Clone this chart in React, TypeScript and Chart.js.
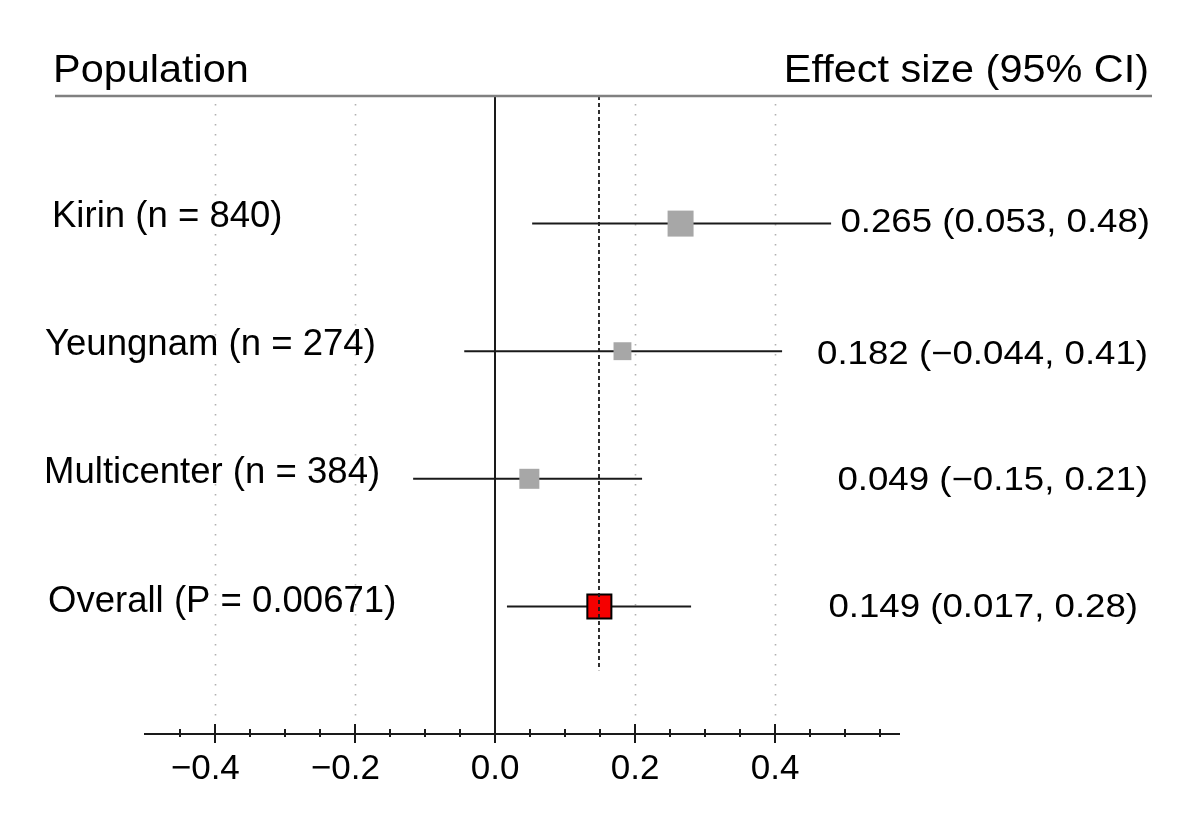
import React, { useEffect, useRef } from 'react';
import { Chart, registerables } from 'chart.js';

Chart.register(...registerables);

// ---------- data ----------
const POPULATIONS = ['Kirin (n = 840)', 'Yeungnam (n = 274)', 'Multicenter (n = 384)', 'Overall (P = 0.00671)'];
const ROWS = [1, 2, 3, 4];
const SAMPLE_SIZES = [840, 274, 384];
const EFFECTS = [0.265, 0.182, 0.049, 0.149];
// whisker ends as drawn in the picture
const CI_LOWER = [0.053, -0.044, -0.117, 0.017];
const CI_UPPER = [0.48, 0.41, 0.21, 0.28];
const VALUE_LABELS = ['0.265 (0.053, 0.48)', '0.182 (\u22120.044, 0.41)', '0.049 (\u22120.15, 0.21)', '0.149 (0.017, 0.28)'];
const X_TICKS = [-0.45, -0.4, -0.35, -0.3, -0.25, -0.2, -0.15, -0.1, -0.05, 0, 0.05, 0.1, 0.15, 0.2, 0.25, 0.3, 0.35, 0.4, 0.45, 0.5, 0.55];
const MAJOR_TICKS = [-0.4, -0.2, 0, 0.2, 0.4];
const GRID_LINES = [-0.4, -0.2, 0.2, 0.4];
const HEADER_LEFT = 'Population';
const HEADER_RIGHT = 'Effect size (95% CI)';

// ---------- style / layout ----------
const FONT = '"Liberation Sans", Arial, Helvetica, sans-serif';
const GRAY = '#a7a7a7';
const RED = '#f50000';
const INK = '#1a1a1a';
const LABEL_X = [52, 45, 44, 48];
const LABEL_DY = [3, 4, 4, 6];
const VALUE_RIGHT = [1150, 1148, 1148, 1138];
const VALUE_DY = [8, 13, 11, 11];

const isMajor = (v: number) => MAJOR_TICKS.some((m) => Math.abs(m - v) < 1e-9);
// negative labels: minus hangs to the left of the centred number
const fmtTick = (v: number) => (v < -1e-9 ? '\u2212' + Math.abs(v).toFixed(1) + '  ' : v.toFixed(1));

function drawText(ctx: CanvasRenderingContext2D, text: string, x: number, y: number, size: number, align: CanvasTextAlign, sx = 1) {
  ctx.save();
  ctx.font = `${size}px ${FONT}`;
  ctx.textBaseline = 'alphabetic';
  ctx.textAlign = align;
  ctx.fillStyle = '#000';
  ctx.translate(x, y);
  ctx.scale(sx, 1);
  ctx.fillText(text, 0, 0);
  ctx.restore();
}

const forestPlugin = {
  id: 'forestDecor',
  beforeDatasetsDraw(chart: any) {
    const { ctx, chartArea, scales } = chart;
    const { top, bottom } = chartArea;
    const x = scales.x;
    ctx.save();
    // dotted reference lines
    ctx.strokeStyle = '#b0b0b0';
    ctx.lineWidth = 1.6;
    ctx.setLineDash([1.6, 8.4]);
    for (const v of GRID_LINES) {
      const px = Math.round(x.getPixelForValue(v)) + 0.5;
      ctx.beginPath();
      ctx.moveTo(px, top + 8);
      ctx.lineTo(px, bottom - 10);
      ctx.stroke();
    }
    ctx.setLineDash([]);
    // zero line
    const x0 = Math.round(x.getPixelForValue(0));
    ctx.strokeStyle = INK;
    ctx.lineWidth = 2;
    ctx.beginPath();
    ctx.moveTo(x0, top);
    ctx.lineTo(x0, bottom);
    ctx.stroke();
    ctx.restore();
  },
  afterDatasetsDraw(chart: any) {
    const { ctx, chartArea, scales } = chart;
    const { top, bottom } = chartArea;
    const x = scales.x;
    const y = scales.y;
    ctx.save();
    // dashed line at overall estimate
    const xo = Math.round(x.getPixelForValue(EFFECTS[3]));
    ctx.strokeStyle = INK;
    ctx.lineWidth = 1.8;
    ctx.setLineDash([4, 3]);
    ctx.beginPath();
    ctx.moveTo(xo, y.getPixelForValue(0));
    ctx.lineTo(xo, y.getPixelForValue(4.5));
    ctx.stroke();
    ctx.setLineDash([]);
    // tick marks across axis line
    ctx.strokeStyle = INK;
    ctx.lineWidth = 2;
    for (const v of X_TICKS) {
      const px = Math.round(x.getPixelForValue(v));
      const major = isMajor(v);
      ctx.beginPath();
      ctx.moveTo(px, bottom - (major ? 10 : 5));
      ctx.lineTo(px, bottom + (major ? 9 : 3));
      ctx.stroke();
    }
    // header rule
    ctx.strokeStyle = '#808080';
    ctx.lineWidth = 2.5;
    ctx.beginPath();
    ctx.moveTo(55, top);
    ctx.lineTo(1152, top);
    ctx.stroke();
    ctx.restore();

    // headers
    drawText(ctx, HEADER_LEFT, 53, 82, 38, 'left', 1.09);
    drawText(ctx, HEADER_RIGHT, 1149, 82, 38, 'right', 1.09);

    // row labels & values
    ROWS.forEach((r, i) => {
      const py = y.getPixelForValue(r);
      drawText(ctx, POPULATIONS[i], LABEL_X[i], py + LABEL_DY[i], 36, 'left', 1.015);
      drawText(ctx, VALUE_LABELS[i], VALUE_RIGHT[i], py + VALUE_DY[i], 33, 'right', 1.11);
    });
  },
};

export default function App() {
  const canvasRef = useRef<HTMLCanvasElement | null>(null);

  useEffect(() => {
    const canvas = canvasRef.current;
    if (!canvas) return;

    const squareRadius = SAMPLE_SIZES.map((n) => (2.754 * Math.cbrt(n)) / Math.SQRT2);

    const pointData = ROWS.map((r, i) => ({ x: EFFECTS[i], y: r }));
    const ciSets = ROWS.map((r, i) => ({
      type: 'scatter' as const,
      label: `ci-${i}`,
      data: [
        { x: CI_LOWER[i], y: r },
        { x: CI_UPPER[i], y: r },
      ],
      showLine: true,
      borderColor: INK,
      borderWidth: 2,
      pointRadius: 0,
      order: 2,
    }));

    const chart = new Chart(canvas, {
      type: 'scatter',
      data: {
        datasets: [
          {
            label: 'estimates',
            data: pointData,
            pointStyle: 'rect',
            pointRadius: [...squareRadius, 17],
            pointBackgroundColor: [GRAY, GRAY, GRAY, RED],
            pointBorderColor: [GRAY, GRAY, GRAY, '#000'],
            pointBorderWidth: [0, 0, 0, 2],
            order: 1,
          } as any,
          ...ciSets,
        ],
      },
      options: {
        responsive: false,
        animation: false,
        devicePixelRatio: 1,
        layout: { padding: { left: 145, right: 301, top: 96, bottom: 21 } },
        plugins: { legend: { display: false }, tooltip: { enabled: false } },
        scales: {
          x: {
            type: 'linear',
            min: -0.5,
            max: 0.577,
            afterBuildTicks: (s: any) => {
              s.ticks = X_TICKS.map((v) => ({ value: v }));
            },
            grid: { display: false, drawTicks: false },
            border: { display: true, color: INK, width: 2 },
            ticks: {
              autoSkip: false,
              maxRotation: 0,
              minRotation: 0,
              padding: 14,
              color: '#000',
              font: { family: FONT, size: 35 },
              callback: (v: any) => (isMajor(Number(v)) ? fmtTick(Number(v)) : ''),
            },
          },
          y: {
            type: 'linear',
            min: 0,
            max: 5,
            reverse: true,
            display: false,
          },
        },
      },
      plugins: [forestPlugin],
    });

    return () => chart.destroy();
  }, []);

  return (
    <div style={{ position: 'fixed', left: 0, top: 0, width: 1200, height: 825, background: '#fff' }}>
      <canvas ref={canvasRef} width={1200} height={825} style={{ width: 1200, height: 825, display: 'block' }} />
    </div>
  );
}
